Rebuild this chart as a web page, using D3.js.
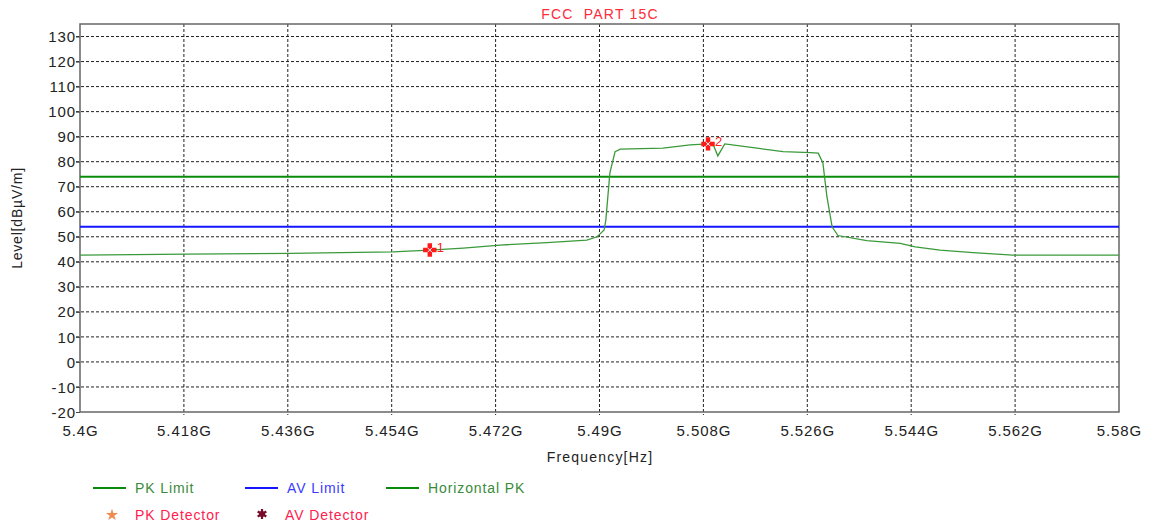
<!DOCTYPE html>
<html>
<head>
<meta charset="utf-8">
<script src="https://cdn.jsdelivr.net/npm/d3@7"></script>
<style>
  body { margin: 0; background: #fff; }
  svg { font-family: "Liberation Sans", Arial, sans-serif; }
</style>
</head>
<body>
<div id="chart"></div>
<script>
// trace (GHz, dBuV/m)
var freqGHz = [5.4000, 5.4185, 5.4364, 5.4542, 5.4606, 5.4664, 5.4728, 5.4809, 5.4878, 5.4896,
  5.4908, 5.4911, 5.4918, 5.4927, 5.4936, 5.5010, 5.5057, 5.5088, 5.5098, 5.5105, 5.5117,
  5.5173, 5.5218, 5.5265, 5.5279, 5.5287, 5.5294, 5.5303, 5.5313, 5.5363, 5.5421, 5.5447,
  5.5490, 5.5547, 5.5616, 5.5800];
var levels = [42.7, 43.1, 43.4, 44.0, 44.7, 45.5, 46.7, 47.7, 48.7, 50.0,
  52.7, 56.7, 75.5, 84.0, 85.0, 85.4, 86.7, 87.1, 86.3, 82.3, 87.1,
  85.4, 84.0, 83.6, 83.4, 79.5, 66.0, 54.0, 50.5, 48.5, 47.4, 46.0,
  44.7, 43.7, 42.7, 42.7];

var markerFreq = [5.4606, 5.5088];
var markerLevel = [44.7, 87.1];
var markerName = ["1", "2"];

var pkLimit = 74;
var avLimit = 54;

var xTicks = [5.4, 5.418, 5.436, 5.454, 5.472, 5.49, 5.508, 5.526, 5.544, 5.562, 5.58];
var yTicks = [-20, -10, 0, 10, 20, 30, 40, 50, 60, 70, 80, 90, 100, 110, 120, 130];

var width = 1153, height = 529;
var svg = d3.select("#chart").append("svg")
  .attr("width", width)
  .attr("height", height);

var x = d3.scaleLinear().domain([5.4, 5.58]).range([80, 1119]);
var y = d3.scaleLinear().domain([-20, 135]).range([412, 24]);

// title
svg.append("text")
  .attr("x", 600).attr("y", 19)
  .attr("text-anchor", "middle")
  .style("font-size", "14px")
  .style("letter-spacing", "1.2px")
  .style("white-space", "pre")
  .style("fill", "#ff2a3a")
  .text("FCC\u00a0 PART 15C");

// grid
var grid = svg.append("g");
grid.selectAll("line.h").data(yTicks.slice(1))
  .enter().append("line")
  .attr("x1", x.range()[0] - 4).attr("x2", x.range()[1])
  .attr("y1", function(d) { return y(d); }).attr("y2", function(d) { return y(d); })
  .style("stroke", "#222").style("stroke-width", 1).style("stroke-dasharray", "3,2");
grid.selectAll("line.v").data(xTicks.slice(1, -1))
  .enter().append("line")
  .attr("y1", y(135)).attr("y2", y(-20) + 3)
  .attr("x1", function(d) { return x(d); }).attr("x2", function(d) { return x(d); })
  .style("stroke", "#222").style("stroke-width", 1).style("stroke-dasharray", "3,2");

// frame
svg.append("rect")
  .attr("x", x.range()[0]).attr("y", y(135))
  .attr("width", x.range()[1] - x.range()[0])
  .attr("height", y(-20) - y(135))
  .style("fill", "none").style("stroke", "#666").style("stroke-width", 1.5);

// axes labels
var yAxis = svg.append("g")
  .attr("transform", "translate(" + x.range()[0] + ",0)")
  .call(d3.axisLeft(y).tickValues(yTicks).tickSize(4).tickFormat(function(d) { return String(d); }));
yAxis.select(".domain").remove();
yAxis.selectAll("line").style("stroke", "#444");
yAxis.selectAll("text").style("font-size", "15px").style("fill", "#222")
  .style("letter-spacing", "0.9px")
  .attr("x", -4).attr("dy", "0.34em");

var xAxis = svg.append("g")
  .attr("transform", "translate(0," + y(-20) + ")")
  .call(d3.axisBottom(x).tickValues(xTicks).tickSize(0)
    .tickFormat(function(d) { return (+d.toFixed(3)) + "G"; }));
xAxis.select(".domain").remove();
xAxis.selectAll("text").style("font-size", "15px").style("fill", "#222")
  .style("letter-spacing", "0.9px")
  .attr("y", 13);

svg.append("text")
  .attr("x", 600).attr("y", 462)
  .attr("text-anchor", "middle")
  .style("font-size", "14px").style("fill", "#222")
  .style("letter-spacing", "1.2px")
  .text("Frequency[Hz]");

svg.append("text")
  .attr("transform", "translate(22,218) rotate(-90)")
  .attr("text-anchor", "middle")
  .style("font-size", "14px").style("fill", "#222")
  .style("letter-spacing", "0.8px")
  .text("Level[dBµV/m]");

// limits
svg.append("line")
  .attr("x1", x.range()[0]).attr("x2", x.range()[1])
  .attr("y1", y(pkLimit)).attr("y2", y(pkLimit))
  .style("stroke", "#0a8c0a").style("stroke-width", 2);
svg.append("line")
  .attr("x1", x.range()[0]).attr("x2", x.range()[1])
  .attr("y1", y(avLimit)).attr("y2", y(avLimit))
  .style("stroke", "#1515ff").style("stroke-width", 2);

// trace
var trace = freqGHz.map(function(f, i) { return [f, levels[i]]; });
svg.append("path")
  .datum(trace)
  .attr("d", d3.line().x(function(d) { return x(d[0]); }).y(function(d) { return y(d[1]); }))
  .style("fill", "none").style("stroke", "#3a9a3a").style("stroke-width", 1.3);

// markers
var mk = svg.selectAll("g.marker").data(markerFreq)
  .enter().append("g")
  .attr("transform", function(d, i) { return "translate(" + x(d) + "," + y(markerLevel[i]) + ")"; });
mk.append("path")
  .attr("d", d3.symbol().type(d3.symbolCross).size(100))
  .style("fill", "#ff1a1a");
mk.append("path")
  .attr("d", "M-2,-2L2,2M-2,2L2,-2")
  .style("stroke", "#fff").style("stroke-width", 1);
mk.append("text")
  .attr("x", 7).attr("y", 2)
  .style("font-size", "13px").style("fill", "#ff2020")
  .text(function(d, i) { return markerName[i]; });

// legend
var legendLines = [
  { name: "PK Limit", color: "#0a8c0a", text: "#3a8a3a", x: 93 },
  { name: "AV Limit", color: "#1515ff", text: "#3a3aff", x: 245 },
  { name: "Horizontal PK", color: "#0a8c0a", text: "#3a8a3a", x: 386 }
];
var lg = svg.selectAll("g.lgl").data(legendLines).enter().append("g");
lg.append("line")
  .attr("x1", function(d) { return d.x; }).attr("x2", function(d) { return d.x + 33; })
  .attr("y1", 488).attr("y2", 488)
  .style("stroke", function(d) { return d.color; }).style("stroke-width", 2);
lg.append("text")
  .attr("x", function(d) { return d.x + 42; }).attr("y", 493)
  .style("font-size", "14px")
  .style("letter-spacing", "0.9px")
  .style("fill", function(d) { return d.text; })
  .text(function(d) { return d.name; });

svg.append("path")
  .attr("transform", "translate(112,515)")
  .attr("d", d3.symbol().type(d3.symbolStar).size(45))
  .style("fill", "#f08a50");
svg.append("text")
  .attr("x", 135).attr("y", 520)
  .style("font-size", "14px").style("fill", "#ff2050")
  .style("letter-spacing", "0.9px")
  .text("PK Detector");

var burst = svg.append("g").attr("transform", "translate(262,514)");
burst.append("path")
  .attr("d", d3.symbol().type(d3.symbolAsterisk).size(70))
  .style("stroke", "#7a0a2a").style("stroke-width", 2.2);
burst.append("circle").attr("r", 3).style("fill", "#7a0a2a");
svg.append("text")
  .attr("x", 285).attr("y", 520)
  .style("font-size", "14px").style("fill", "#ff2050")
  .style("letter-spacing", "0.9px")
  .text("AV Detector");
</script>
</body>
</html>
